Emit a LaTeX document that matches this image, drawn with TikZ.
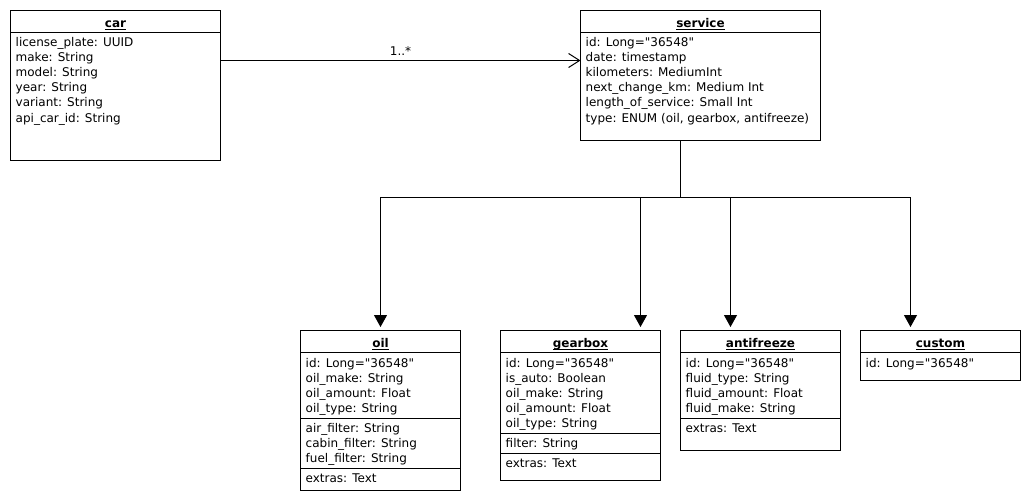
\documentclass[tikz,border=0pt]{standalone}
\usepackage{fontspec}
\setmainfont{DejaVu Sans}
\usetikzlibrary{arrows.meta,calc}
\font\qfont="DejaVu Sans" at 12pt
\newcommand\ulx[1]{\setbox0\hbox{#1}\rlap{\rule[-2.5pt]{\wd0}{1pt}}\box0}
\newcommand\dq{{\qfont\char34}}
\tikzset{
  cls/.style={draw, line width=1pt, inner sep=0pt, outer sep=0pt, anchor=north west, fill=white},
  attr/.style={anchor=base west, inner sep=0pt, font=\fontsize{12}{15}\selectfont},
  ttl/.style={anchor=base, inner sep=0pt, font=\fontsize{12}{15}\selectfont\bfseries},
  sepline/.style={line width=1pt},
  conn/.style={line width=1pt},
  assoc/.style={conn, -{Straight Barb[length=11pt,width=14pt,line width=1pt]}},
  gen/.style={conn, -{Triangle[length=12pt,width=13pt]}, shorten >=3.5pt},
}
% #1 name, #2 x, #3 y, #4 width, #5 height, #6 title
\newcommand\klass[6]{%
  \node[cls, minimum width=#4pt, minimum height=#5pt] (#1) at (#2,#3) {};
  \node[ttl] (#1-title) at ($(#1.north)+(0,17)$) {\ulx{#6}};
  \draw[sepline] ($(#1.north west)+(0,22)$) -- ($(#1.north east)+(0,22)$);}
% #1 prefix, #2 class, #3 first baseline offset, #4 list
\newcommand\attrs[4]{%
  \foreach \t [count=\i] in {#4} {\node[attr] (#1-\i) at ($(#2.north west)+(5,#3+15*\i-15)$) {\t};}}
\newcommand\csep[2]{\draw[sepline] ($(#1.north west)+(0,#2)$) -- ($(#1.north east)+(0,#2)$);}
\begin{document}
\begin{tikzpicture}[x=1pt,y=-1pt]
\fill[white] (0,0) rectangle (1030,500);
\useasboundingbox (0,0) rectangle (1030,500);
\begin{scope}[shift={(0.5,0.5)}]
% car
\klass{car}{10}{10}{210}{150}{car}
\attrs{car-a}{car}{36.5}{license\_plate: UUID, make: String, model: String, year: String, variant: String, api\_car\_id: String}
% service
\klass{service}{580}{10}{240}{130}{service}
\attrs{service-a}{service}{36.5}{id: Long=\dq 36548\dq, date: timestamp, kilometers: MediumInt, next\_change\_km: Medium Int, length\_of\_service: Small Int, {type: ENUM (oil, gearbox, antifreeze)}}
% oil
\klass{oil}{300}{330}{160}{160}{oil}
\attrs{oil-a}{oil}{36.5}{id: Long=\dq 36548\dq, oil\_make: String, oil\_amount: Float, oil\_type: String}
\csep{oil}{87.5}
\attrs{oil-b}{oil}{101.5}{air\_filter: String, cabin\_filter: String, fuel\_filter: String}
\csep{oil}{137.5}
\attrs{oil-c}{oil}{151.5}{extras: Text}
% gearbox
\klass{gearbox}{500}{330}{160}{150}{gearbox}
\attrs{gearbox-a}{gearbox}{36.5}{id: Long=\dq 36548\dq, is\_auto: Boolean, oil\_make: String, oil\_amount: Float, oil\_type: String}
\csep{gearbox}{102.5}
\attrs{gearbox-b}{gearbox}{116.5}{filter: String}
\csep{gearbox}{122.5}
\attrs{gearbox-c}{gearbox}{136.5}{extras: Text}
% antifreeze
\klass{antifreeze}{680}{330}{160}{120}{antifreeze}
\attrs{antifreeze-a}{antifreeze}{36.5}{id: Long=\dq 36548\dq, fluid\_type: String, fluid\_amount: Float, fluid\_make: String}
\csep{antifreeze}{87.5}
\attrs{antifreeze-b}{antifreeze}{101.5}{extras: Text}
% custom
\klass{custom}{860}{330}{160}{50}{custom}
\attrs{custom-a}{custom}{36.5}{id: Long=\dq 36548\dq}
% association
\coordinate (a1) at ($(car.north east)+(0,50)$);
\coordinate (a2) at (a1 -| service.west);
\draw[assoc] (a1) -- (a2);
\node[attr, anchor=base] (mult) at ($(a1)!0.5!(a2)+(0,-4.5)$) {1..*};
% generalization
\coordinate (s1) at ($(service.south west)+(100,0)$);
\coordinate (j) at ($(s1)+(0,57)$);
\draw[conn] (s1) -- (j);
\draw[gen] (j) -| (oil.north);
\draw[gen] (j) -| ($(gearbox.north west)+(140,0)$);
\draw[gen] (j) -| ($(antifreeze.north west)+(50,0)$);
\draw[gen] (j) -| ($(custom.north west)+(50,0)$);
\end{scope}
\end{tikzpicture}
\end{document}
